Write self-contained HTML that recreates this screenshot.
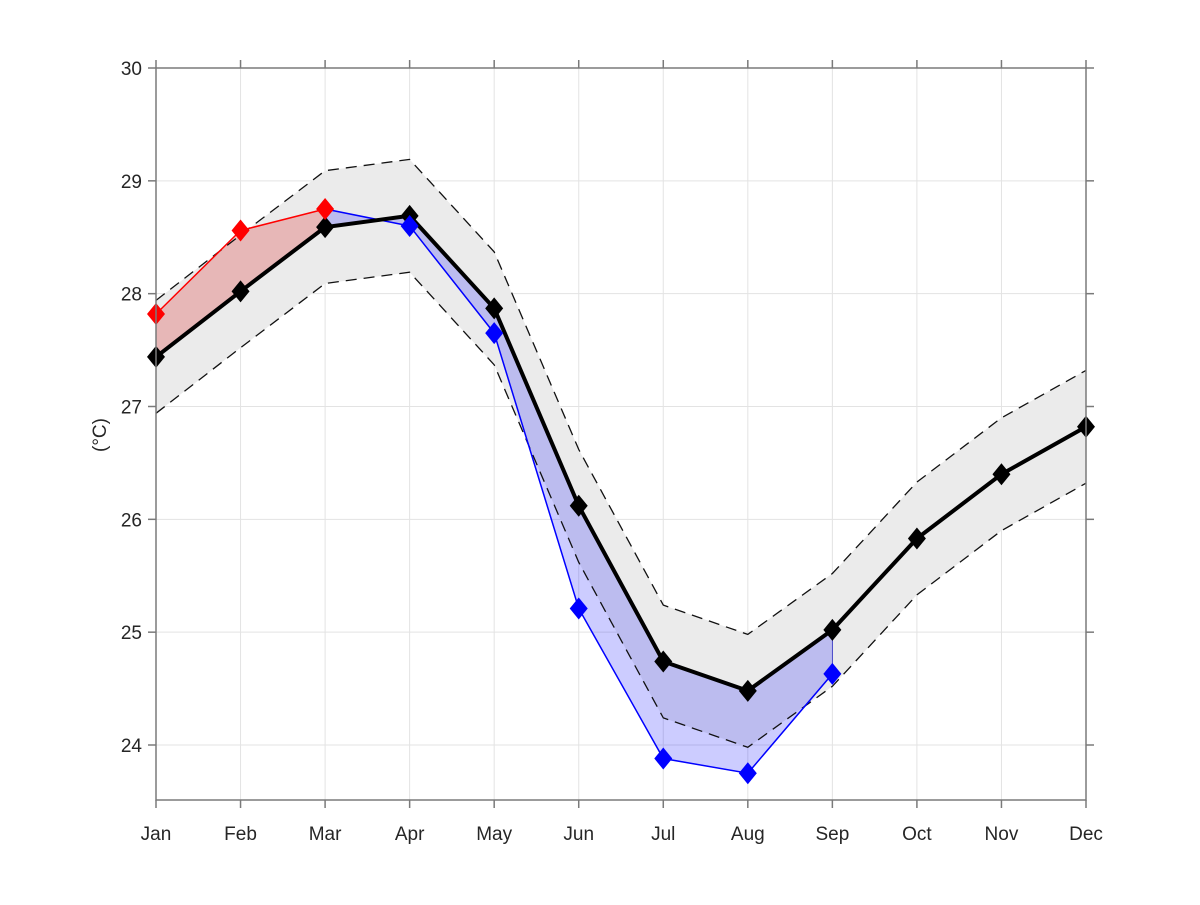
<!DOCTYPE html>
<html><head><meta charset="utf-8"><style>
html,body{margin:0;padding:0;background:#fff;}
text{font-family:"Liberation Sans",Arial,sans-serif;font-size:19px;fill:#262626;}
</style></head><body>
<svg id="s" width="1200" height="900" xmlns="http://www.w3.org/2000/svg"></svg>
<script>
const X=i=>156+i*(930/11), Y=v=>745-(v-24)*112.833;
const m=[27.44,28.02,28.59,28.69,27.87,26.12,24.74,24.48,25.02,25.83,26.40,26.82];
const s=[27.82,28.56,28.75,28.60,27.65,25.21,23.88,23.75,24.63];
const mon=["Jan","Feb","Mar","Apr","May","Jun","Jul","Aug","Sep","Oct","Nov","Dec"];
let h='';
const pts=a=>a.map((v,i)=>X(i).toFixed(1)+','+Y(v).toFixed(1)).join(' ');
for(let i=0;i<12;i++)h+=`<line x1="${X(i)}" y1="68" x2="${X(i)}" y2="800" stroke="#e3e3e3" stroke-width="1"/>`;
for(let v=24;v<=30;v++)h+=`<line x1="156" y1="${Y(v)}" x2="1086" y2="${Y(v)}" stroke="#e3e3e3" stroke-width="1"/>`;
const up=m.map(v=>v+0.5), lo=m.map(v=>v-0.5);
let bandPts=pts(up)+' '+lo.map((v,i)=>X(i).toFixed(1)+','+Y(v).toFixed(1)).reverse().join(' ');
h+=`<polygon points="${bandPts}" fill="#ebebeb"/>`;
let rp=pts(s.slice(0,3))+' '+[2,1,0].map(i=>X(i)+','+Y(m[i])).join(' ');
h+=`<polygon points="${rp}" fill="rgba(220,0,0,0.22)"/>`;
let bp=s.slice(2,9).map((v,i)=>X(i+2)+','+Y(v)).join(' ')+' '+[8,7,6,5,4,3,2].map(i=>X(i)+','+Y(m[i])).join(' ');
h+=`<polygon points="${bp}" fill="rgba(0,0,255,0.2)" stroke="#2020c0" stroke-width="0.8"/>`;
h+=`<polyline points="${pts(up)}" fill="none" stroke="#111" stroke-width="1.3" stroke-dasharray="11,7"/>`;
h+=`<polyline points="${pts(lo)}" fill="none" stroke="#111" stroke-width="1.3" stroke-dasharray="11,7"/>`;
h+=`<polyline points="${pts(s.slice(0,3))}" fill="none" stroke="#f00" stroke-width="1.5"/>`;
h+=`<polyline points="${s.slice(2,9).map((v,i)=>X(i+2)+','+Y(v)).join(' ')}" fill="none" stroke="#00f" stroke-width="1.5"/>`;
h+=`<polyline points="${pts(m)}" fill="none" stroke="#000" stroke-width="4"/>`;
const dia=(x,y,c)=>`<polygon points="${x},${y-11} ${x+9},${y} ${x},${y+11} ${x-9},${y}" fill="${c}"/>`;
m.forEach((v,i)=>h+=dia(X(i),Y(v),'#000'));
s.forEach((v,i)=>h+=dia(X(i),Y(v),i<3?'#f00':'#00f'));
const ax='#7a7a7a';
h+=`<rect x="156" y="68" width="930" height="732" fill="none" stroke="${ax}" stroke-width="1.5"/>`;
for(let v=24;v<=30;v++){h+=`<line x1="148" y1="${Y(v)}" x2="156" y2="${Y(v)}" stroke="${ax}" stroke-width="1.5"/><line x1="1086" y1="${Y(v)}" x2="1094" y2="${Y(v)}" stroke="${ax}" stroke-width="1.5"/><text x="142" y="${Y(v)+7}" text-anchor="end">${v}</text>`;}
for(let i=0;i<12;i++){h+=`<line x1="${X(i)}" y1="800" x2="${X(i)}" y2="808" stroke="${ax}" stroke-width="1.5"/><line x1="${X(i)}" y1="60" x2="${X(i)}" y2="68" stroke="${ax}" stroke-width="1.5"/><text x="${X(i)}" y="840" text-anchor="middle">${mon[i]}</text>`;}
h+=`<text x="106" y="435" text-anchor="middle" transform="rotate(-90 106 435)">(°C)</text>`;
document.getElementById('s').innerHTML=h;
</script>
</body></html>
